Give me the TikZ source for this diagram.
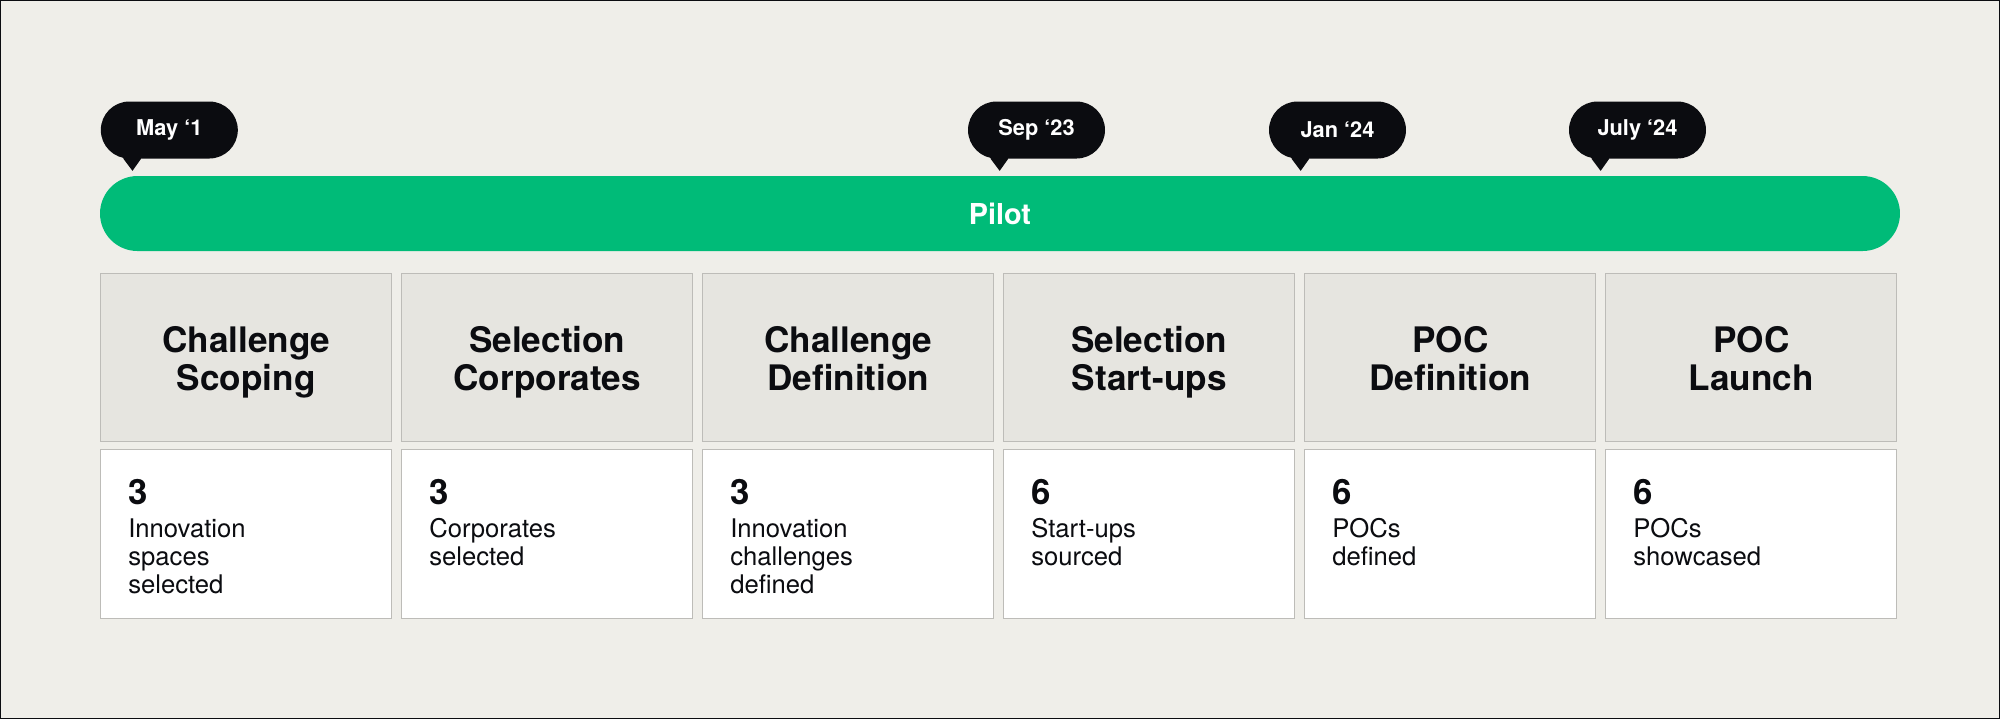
\documentclass[tikz,border=0pt]{standalone}
\usepackage{fontspec}
\setmainfont{TeX Gyre Heros}
\usepackage{xcolor}
\usetikzlibrary{positioning}

\definecolor{paper}{HTML}{EFEEE9}
\definecolor{pilotgreen}{HTML}{00BB78}
\definecolor{headfill}{HTML}{E6E5E0}
\definecolor{boxline}{HTML}{BDBCB8}
\definecolor{ink}{HTML}{0B0C10}

\begin{document}
\begin{tikzpicture}[
  stamp/.style={
    fill=ink,
    text=white,
    rounded corners=0.57cm,
    minimum width=2.74cm,
    minimum height=1.14cm,
    font=\fontsize{12.4}{14}\selectfont\bfseries
  },
  bar/.style={
    fill=pilotgreen,
    text=white,
    rounded corners=0.75cm,
    minimum width=36cm,
    minimum height=1.5cm,
    font=\fontsize{16.4}{18}\selectfont\bfseries
  },
  phase/.style={
    draw=boxline,
    fill=headfill,
    align=center,
    minimum width=5.82cm,
    minimum height=3.36cm,
    text=ink,
    text height=38.5pt,
    text depth=0pt,
    font=\fontsize{20}{21.7}\selectfont\bfseries
  },
  result/.style={
    draw=boxline,
    fill=white,
    minimum width=5.82cm,
    minimum height=3.38cm
  },
  figure/.style={
    inner sep=0pt,
    align=left,
    text=ink,
    font=\fontsize{14.6}{15.9}\selectfont
  }
]
  \fill[paper] (0,0) rectangle (40,-14.38);
  \draw[ink, line width=0.6pt] (0.01,-0.01) rectangle (39.99,-14.37);
  \useasboundingbox (0,0) rectangle (40,-14.38);

  % date stamps
  \node[stamp] (may) at (3.386,-2.6) {May ‘1};
  \node[stamp] (sep) at (20.73,-2.6) {Sep ‘23};
  \node[stamp] (jan) at (26.75,-2.6) {Jan ‘24};
  \node[stamp] (july) at (32.75,-2.6) {July ‘24};
  \foreach \s in {may,sep,jan,july}
    \fill[ink] ([xshift=0.46cm,yshift=0.1cm]\s.south west) -- ([xshift=0.46cm]\s.south west)
      -- ([xshift=0.64cm,yshift=-0.24cm]\s.south west) -- ([xshift=0.81cm]\s.south west)
      -- ([xshift=0.81cm,yshift=0.1cm]\s.south west) -- cycle;

  \node[bar] (pilot) at (20.0,-4.27) {Pilot};

  % phases
  \node[phase] (scoping) at (4.926,-7.14) {Challenge\\Scoping};
  \node[phase] (corporates) at (10.946,-7.14) {Selection\\Corporates};
  \node[phase] (definition) at (16.966,-7.14) {Challenge\\Definition};
  \node[phase] (startups) at (22.986,-7.14) {Selection\\Start-ups};
  \node[phase] (pocdef) at (29.006,-7.14) {POC\\Definition};
  \node[phase] (launch) at (35.026,-7.14) {POC\\Launch};

  % results
  \node[result] (r1) at (4.926,-10.67) {};
  \node[result] (r2) at (10.946,-10.67) {};
  \node[result] (r3) at (16.966,-10.67) {};
  \node[result] (r4) at (22.986,-10.67) {};
  \node[result] (r5) at (29.006,-10.67) {};
  \node[result] (r6) at (35.026,-10.67) {};

  \node[figure, below right=0.6cm and 0.55cm of r1.north west] (t1)
    {{\fontsize{19.8}{19.4}\selectfont\bfseries 3}\\[3pt]Innovation\\spaces\\selected};
  \node[figure, below right=0.6cm and 0.55cm of r2.north west] (t2)
    {{\fontsize{19.8}{19.4}\selectfont\bfseries 3}\\[3pt]Corporates\\selected};
  \node[figure, below right=0.6cm and 0.55cm of r3.north west] (t3)
    {{\fontsize{19.8}{19.4}\selectfont\bfseries 3}\\[3pt]Innovation\\challenges\\defined};
  \node[figure, below right=0.6cm and 0.55cm of r4.north west] (t4)
    {{\fontsize{19.8}{19.4}\selectfont\bfseries 6}\\[3pt]Start-ups\\sourced};
  \node[figure, below right=0.6cm and 0.55cm of r5.north west] (t5)
    {{\fontsize{19.8}{19.4}\selectfont\bfseries 6}\\[3pt]POCs\\defined};
  \node[figure, below right=0.6cm and 0.55cm of r6.north west] (t6)
    {{\fontsize{19.8}{19.4}\selectfont\bfseries 6}\\[3pt]POCs\\showcased};
\end{tikzpicture}
\end{document}
